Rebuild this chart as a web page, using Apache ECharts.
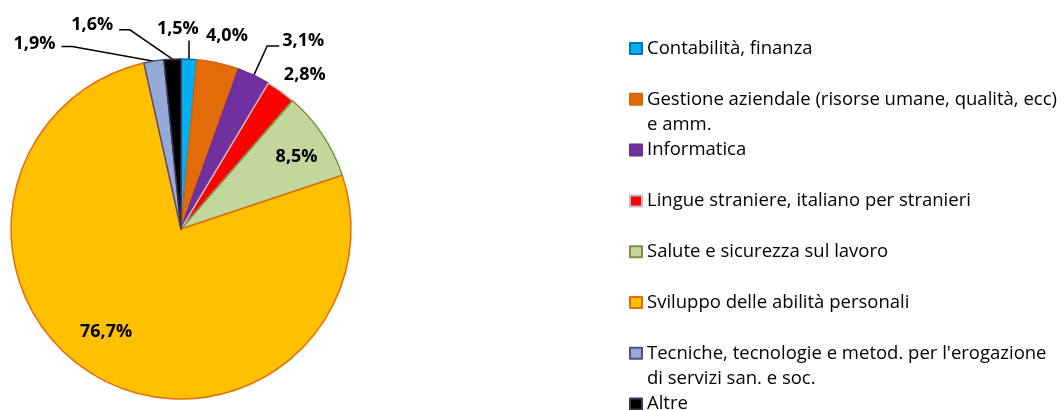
<!DOCTYPE html>
<html>
<head>
<meta charset="utf-8">
<script src="https://cdn.jsdelivr.net/npm/echarts@6/dist/echarts.min.js"></script>
<style>
  html, body { margin: 0; padding: 0; background: #ffffff; }
  #chart { width: 1064px; height: 410px; }
</style>
</head>
<body>
<div id="chart"></div>
<script>
// Course areas and their share of the total (percent)
const categories = [
  'Contabilità, finanza',
  'Gestione aziendale (risorse umane, qualità, ecc) e amm.',
  'Informatica',
  'Lingue straniere, italiano per stranieri',
  'Salute e sicurezza sul lavoro',
  'Sviluppo delle abilità personali',
  "Tecniche, tecnologie e metod. per l'erogazione di servizi san. e soc.",
  'Altre'
];
const values = [1.5, 4.0, 3.1, 2.8, 8.5, 76.7, 1.9, 1.6];

// Legend text, with the line breaks used in the legend column
const legendLabels = [
  'Contabilità, finanza',
  'Gestione aziendale (risorse umane, qualità, ecc)\ne amm.',
  'Informatica',
  'Lingue straniere, italiano per stranieri',
  'Salute e sicurezza sul lavoro',
  'Sviluppo delle abilità personali',
  "Tecniche, tecnologie e metod. per l'erogazione\ndi servizi san. e soc.",
  'Altre'
];

const fillColors   = ['#00B0F0', '#E36C09', '#7030A0', '#FF0000', '#C3D69B', '#FFC000', '#95ABD7', '#000000'];
const borderColors = ['#0070C0', '#D8650A', '#6A2E98', '#BFBFBF', '#77933C', '#E46C0A', '#604A7B', '#403152'];

// Pie geometry
const CX = 181, CY = 229, R = 170;

// Label placement around the pie: [angle in degrees clockwise from 12 o'clock, distance as a fraction of R]
const labelSpots = [
  [-0.9, 1.18], [13.4, 1.165], [33.0, 1.32], [38.7, 1.165],
  [58.2, 0.80], [216.0, 0.75], [-38.3, 1.39], [-23.5, 1.31]
];
// Leader-line elbows for the small slices: [angle, fraction of R, side of the label ('up', 'right', 'left')]
const leaders = {
  0: [2.7, 1.11, 'up'],
  2: [25.2, 1.19, 'right'],
  6: [-30.8, 1.25, 'left'],
  7: [-14.4, 1.21, 'left']
};
const outsideIdx = [0, 1, 2, 3, 6, 7];

function polar(angleDeg, rf) {
  const a = angleDeg * Math.PI / 180;
  return [CX + rf * R * Math.sin(a), CY - rf * R * Math.cos(a)];
}

// Mid angle of each slice, from the cumulative shares
const total = values.reduce((s, v) => s + v, 0);
const midAngles = [];
(function () {
  let acc = 0;
  values.forEach(v => { midAngles.push((acc + v / 2) / total * 360); acc += v; });
})();

const fmtPct = v => v.toFixed(1).replace('.', ',') + '%';

const seriesData = categories.map((name, i) => {
  const outside = outsideIdx.indexOf(i) >= 0;
  return {
    name: name,
    value: values[i],
    itemStyle: { color: fillColors[i], borderColor: borderColors[i], borderWidth: 1.5 },
    label: { position: outside ? 'outside' : 'inside' },
    labelLine: { show: leaders[i] !== undefined }
  };
});

// One legend block per entry so the entries sit on an even vertical pitch;
// wrapped entries get a blank leading line so the marker lines up with the first line of text.
const LH = 25.5;
const legends = categories.map((name, i) => {
  const lines = legendLabels[i].split('\n').length;
  const centerY = 48.5 + i * 50.8;
  const text = lines > 1 ? ' \n'.repeat(lines - 1) + legendLabels[i] : legendLabels[i];
  return {
    data: [name],
    orient: 'vertical',
    left: 629,
    top: centerY - (2 * lines - 1) * LH / 2,
    padding: 0,
    icon: 'rect',
    itemWidth: 12,
    itemHeight: 11,
    selectedMode: false,
    formatter: () => text,
    textStyle: {
      fontFamily: 'Open Sans',
      fontSize: 18.5,
      color: '#000000',
      lineHeight: LH
    }
  };
});

const chart = echarts.init(document.getElementById('chart'), null, { renderer: 'canvas' });
chart.setOption({
  animation: false,
  backgroundColor: '#ffffff',
  legend: legends,
  series: [{
    type: 'pie',
    center: [CX, CY],
    radius: R,
    startAngle: 90,
    clockwise: true,
    avoidLabelOverlap: false,
    data: seriesData,
    label: {
      show: true,
      formatter: p => fmtPct(p.value),
      fontFamily: 'Open Sans',
      fontWeight: 'bold',
      fontSize: 18,
      color: '#000000'
    },
    labelLine: {
      lineStyle: { color: '#000000', width: 1.5 }
    },
    emphasis: { disabled: true },
    labelLayout: function (params) {
      const i = params.dataIndex;
      const spot = polar(labelSpots[i][0], labelSpots[i][1]);
      const out = { x: spot[0], y: spot[1], align: 'center', verticalAlign: 'middle' };
      const ld = leaders[i];
      if (ld) {
        const start = polar(midAngles[i], 1.0);
        const w = params.labelRect.width;
        if (ld[2] === 'up') {
          const top = polar(midAngles[i], ld[1]);
          out.labelLinePoints = [start, [start[0], top[1]], [start[0], top[1]]];
        } else {
          const elbow = polar(ld[0], ld[1]);
          const endX = ld[2] === 'right' ? spot[0] - w / 2 - 3 : spot[0] + w / 2 + 6;
          out.labelLinePoints = [start, elbow, [endX, elbow[1]]];
        }
      }
      return out;
    }
  }]
});
</script>
</body>
</html>
